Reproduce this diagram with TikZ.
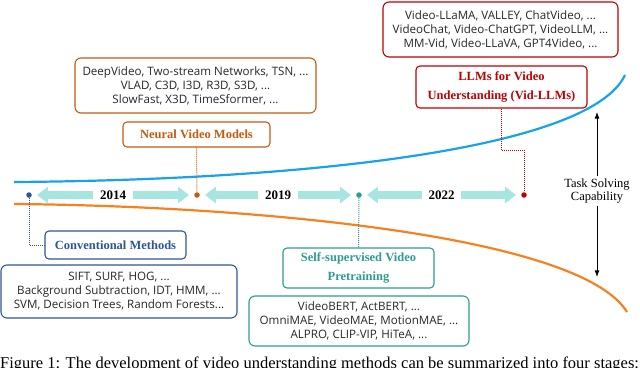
\documentclass[tikz,border=0pt]{standalone}
\usepackage{fontspec}
\setmainfont{Liberation Serif}
\setsansfont{Open Sans}
\usepackage{tikz}
\usetikzlibrary{arrows.meta,positioning,backgrounds}
\definecolor{convblue}{HTML}{2F5597}
\definecolor{neuralorange}{HTML}{C55A11}
\definecolor{sslteal}{HTML}{2E9C8F}
\definecolor{llmred}{HTML}{C00000}
\definecolor{trendblue}{HTML}{17A2EA}
\definecolor{trendorange}{HTML}{F5821F}
\definecolor{spancyan}{HTML}{A6E5E0}

\begin{document}
\begin{tikzpicture}[
  x=1pt, y=-1pt,
  >=Latex,
  listbox/.style={draw, rounded corners=6pt, line width=1.1pt, align=center, text=black!85, font=\sffamily\fontsize{11.6}{14}\selectfont},
  stagebox/.style={draw, rounded corners=4pt, line width=1.1pt, align=center, font=\bfseries\fontsize{12.5}{19}\selectfont},
  yeardot/.style={circle, minimum size=5.5pt, inner sep=0pt},
  year/.style={font=\bfseries\fontsize{13}{14}\selectfont, inner xsep=6.5pt, inner ysep=1pt},
  span/.style={-{Triangle[length=11pt,width=16pt]}, line width=8pt, draw=spancyan, shorten >=5pt},
  link/.style={dash pattern=on 1pt off 1pt, line width=1pt},
  trend/.style={line width=2.2pt}
]
\useasboundingbox (0,0) rectangle (640,367);

% growth curves
\draw[trend, trendblue] (14,182) .. controls (300,180) and (590,150) .. (625,75);
\draw[trend, trendorange] (14,204) .. controls (250,206) and (580,235) .. (627,312);

% timeline
\node[yeardot, fill=convblue] (d2014a) at (29,195) {};
\node[yeardot, fill=neuralorange] (d2014b) at (197,195) {};
\node[yeardot, fill=sslteal] (d2019) at (359,195) {};
\node[yeardot, fill=llmred] (d2022) at (524,195) {};
\node[year] (y2014) at (113,195) {2014};
\node[year] (y2019) at (278,195) {2019};
\node[year] (y2022) at (441.5,195) {2022};
\draw[span] (y2014) -- (d2014a);
\draw[span] (y2014) -- (d2014b);
\draw[span] (y2019) -- (d2014b);
\draw[span] (y2019) -- (d2019);
\draw[span] (y2022) -- (d2019);
\draw[span] (y2022) -- (d2022);

% stages
\node[listbox, draw=neuralorange, minimum width=241pt, minimum height=55pt] (neurallist) at (195.5,85.5) {DeepVideo, Two-stream Networks, TSN, ...\\VLAD, C3D, I3D, R3D, S3D, ...\\SlowFast, X3D, TimeSformer, ...};
\node[stagebox, draw=neuralorange, text=neuralorange, minimum width=147pt, minimum height=25pt] (neurallabel) at (196.5,134.5) {Neural Video Models};

\node[listbox, draw=llmred, minimum width=235pt, minimum height=55pt] (llmlist) at (500.5,29.5) {Video-LLaMA, VALLEY, ChatVideo, ...\\VideoChat, Video-ChatGPT, VideoLLM, ...\\MM-Vid, Video-LLaVA, GPT4Video, ...};
\node[stagebox, draw=llmred, text=llmred, minimum width=171pt, minimum height=42pt] (llmlabel) at (501.5,87) {LLMs for Video\\Understanding (Vid-LLMs)};

\node[stagebox, draw=convblue, text=convblue, minimum width=141pt, minimum height=28pt] (convlabel) at (115.5,245) {Conventional Methods};
\node[listbox, draw=convblue, minimum width=236pt, minimum height=53pt] (convlist) at (119,291.5) {SIFT, SURF, HOG, ...\\Background Subtraction, IDT, HMM, ...\\SVM, Decision Trees, Random Forests...};

\node[stagebox, draw=sslteal, text=sslteal, minimum width=151pt, minimum height=40pt] (ssllabel) at (358.5,268) {Self-supervised Video\\Pretraining};
\node[listbox, draw=sslteal, minimum width=220pt, minimum height=50pt] (ssllist) at (359,321) {VideoBERT, ActBERT, ...\\OmniMAE, VideoMAE, MotionMAE, ...\\ALPRO, CLIP-VIP, HiTeA, ...};

% dotted links to the timeline
\coordinate (llmbend) at (524,150);
\draw[link, convblue] (d2014a) |- (convlabel.west);
\draw[link, neuralorange] (neurallabel.south) -- (d2014b);
\draw[link, sslteal] (d2019) -- (ssllabel.north);
\draw[link, llmred] (llmlabel.south) |- (llmbend) -- (d2022);

% capability axis
\node[align=center, font=\fontsize{12.5}{13.5}\selectfont, inner sep=2pt] (task) at (597,191) {Task Solving\\Capability};
\coordinate (taskup) at (597,112);
\coordinate (taskdown) at (597,277);
\draw[->, line width=0.8pt] (task.north) -- (taskup);
\draw[->, line width=0.8pt] (task.south) -- (taskdown);

\node[anchor=north west, inner sep=0pt, font=\fontsize{16.5}{18}\selectfont] (caption) at (0,357) {Figure 1: The development of video understanding methods can be summarized into four stages:};
\end{tikzpicture}
\end{document}
